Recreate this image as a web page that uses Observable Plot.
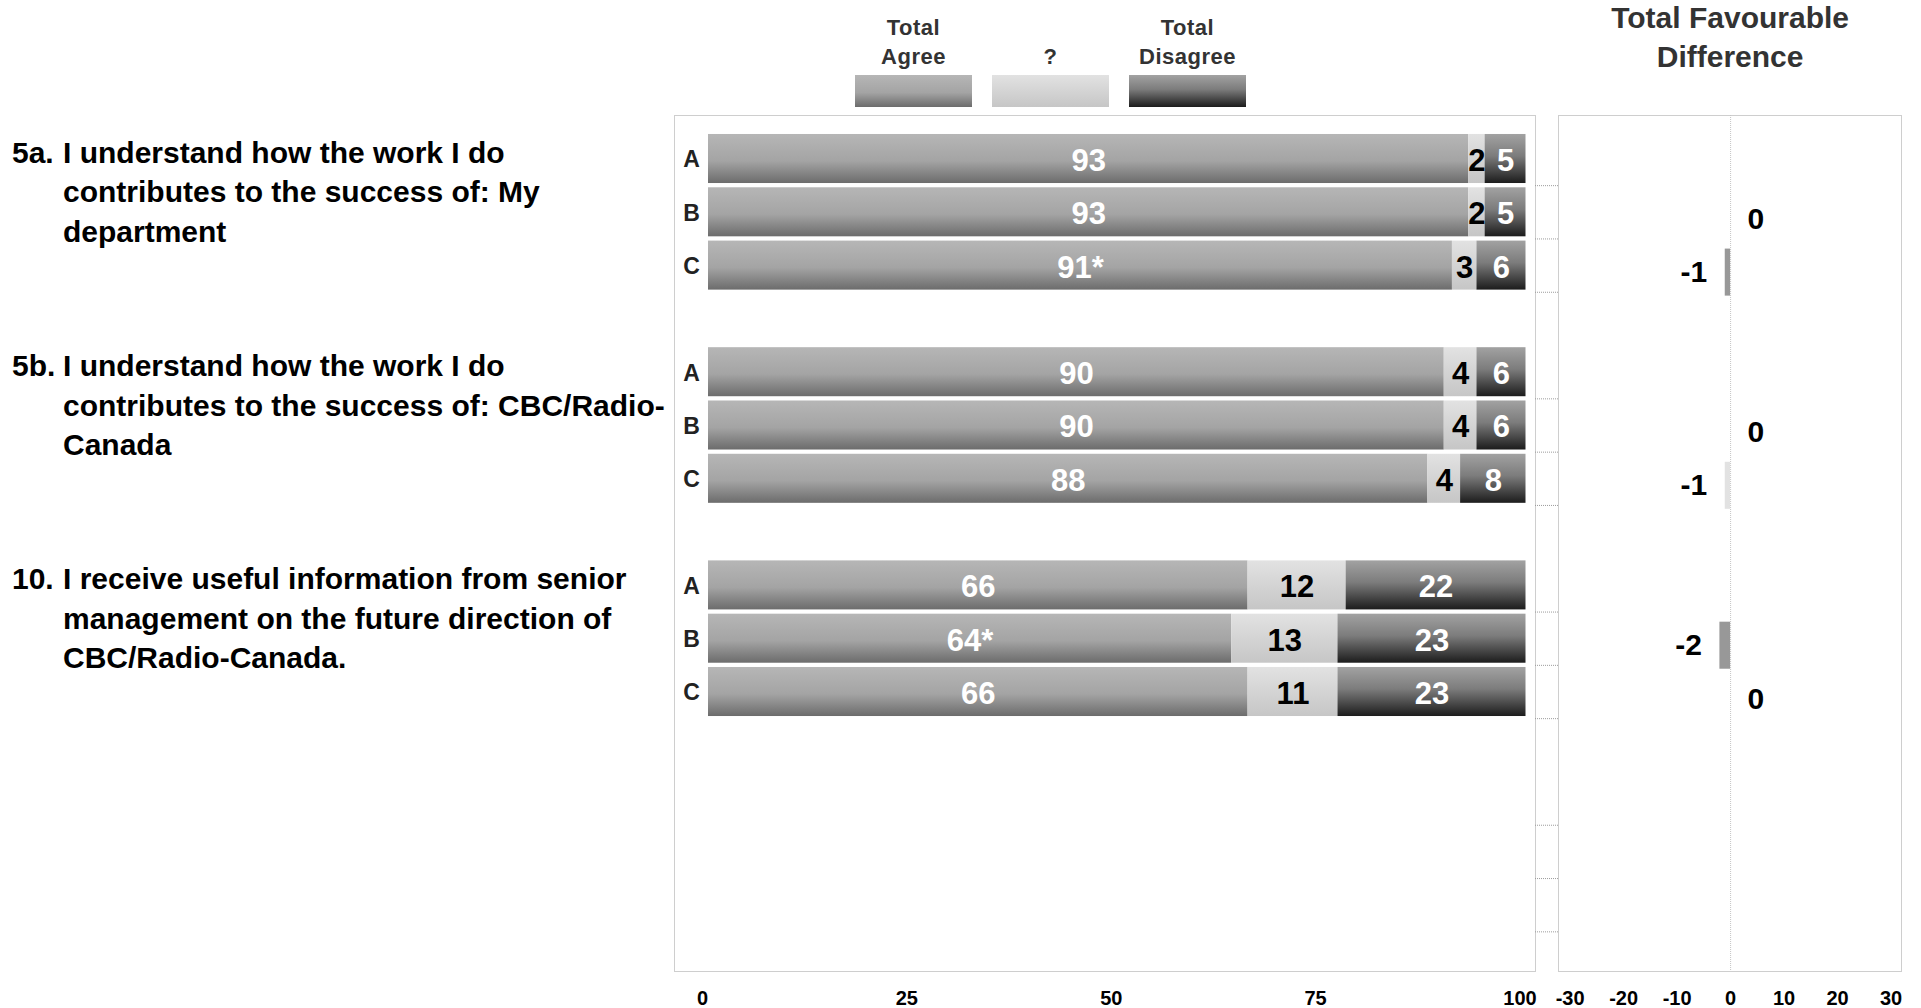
<!DOCTYPE html>
<html>
<head>
<meta charset="utf-8">
<script src="https://cdn.jsdelivr.net/npm/d3@7"></script>
<script src="https://cdn.jsdelivr.net/npm/@observablehq/plot@0.6"></script>
<style>
  html, body { margin: 0; padding: 0; background: #fff; }
  #chart {
    position: relative; width: 1921px; height: 1008px; overflow: hidden;
    font-family: "Liberation Sans", Arial, Helvetica, sans-serif; font-weight: bold;
  }
  #chart svg { position: absolute; left: 0; top: 0; }
  .qnum, .qline { position: absolute; white-space: nowrap; font-size: 30px; line-height: 39px; color: #000; }
  .legend-text { position: absolute; font-size: 22px; line-height: 29px; color: #333; text-align: center; white-space: nowrap; letter-spacing: 0.5px; transform: translateX(-50%); }
  .legend-swatch { position: absolute; }
  .header { position: absolute; font-size: 30px; line-height: 39px; color: #333; text-align: center; white-space: nowrap; transform: translateX(-50%); }
</style>
</head>
<body>
<svg width="0" height="0" style="position:absolute">
  <defs>
    <linearGradient id="gradAgree" x1="0" y1="0" x2="0" y2="1">
      <stop offset="0" stop-color="#b6b6b6"/>
      <stop offset="0.55" stop-color="#a4a4a4"/>
      <stop offset="1" stop-color="#6c6c6c"/>
    </linearGradient>
    <linearGradient id="gradNeutral" x1="0" y1="0" x2="0" y2="1">
      <stop offset="0" stop-color="#e2e2e2"/>
      <stop offset="1" stop-color="#c6c6c6"/>
    </linearGradient>
    <linearGradient id="gradDisagree" x1="0" y1="0" x2="0" y2="1">
      <stop offset="0" stop-color="#a2a2a2"/>
      <stop offset="0.45" stop-color="#7c7c7c"/>
      <stop offset="1" stop-color="#1c1c1c"/>
    </linearGradient>
  </defs>
</svg>
<div id="chart"></div>
<script>
// ---- Survey results -------------------------------------------------------
const questionIds = ["5a.", "5b.", "10."];
const questionLines = [
  ["I understand how the work I do", "contributes to the success of: My", "department"],
  ["I understand how the work I do", "contributes to the success of: CBC/Radio-", "Canada"],
  ["I receive useful information from senior", "management on the future direction of", "CBC/Radio-Canada."]
];
const groups = ["A", "B", "C"];

// Percentages per question (rows) and group (columns)
const totalAgree    = [[93, 93, 91], [90, 90, 88], [66, 64, 66]];
const neutral       = [[2, 2, 3],    [4, 4, 4],    [12, 13, 11]];
const totalDisagree = [[5, 5, 6],    [6, 6, 8],    [22, 23, 23]];
// Statistically significant agreement (shown with an asterisk)
const significant   = [[false, false, true], [false, false, false], [false, true, false]];
// Total favourable difference against group A
const favourableDiff = [[null, 0, -1], [null, 0, -1], [null, -2, 0]];

const mainTicks = [0, 25, 50, 75, 100];
const diffTicks = [-30, -20, -10, 0, 10, 20, 30];
const legendItems = [["Total", "Agree"], ["?"], ["Total", "Disagree"]];
const diffTitle = ["Total Favourable", "Difference"];
// The layout leaves room for one more question block below the last one
const slotBlocks = [...questionIds, "(open)"];

// ---- Tables ---------------------------------------------------------------
const keyOf = (q, g) => `${q}|${g}`;
const rows = questionIds.flatMap((q, qi) => groups.map((g, gi) => ({
  key: keyOf(q, g), q, g, qi, gi,
  agree: totalAgree[qi][gi], neutral: neutral[qi][gi], disagree: totalDisagree[qi][gi],
  sig: significant[qi][gi], diff: favourableDiff[qi][gi]
})));
const segments = rows.flatMap(r => {
  const a = r.agree, n = r.neutral, d = r.disagree;
  return [
    {key: r.key, kind: "agree", x1: 0, x2: a, label: `${a}${r.sig ? "*" : ""}`},
    {key: r.key, kind: "neutral", x1: a, x2: a + n, label: `${n}`},
    {key: r.key, kind: "disagree", x1: a + n, x2: a + n + d, label: `${d}`}
  ];
});
const diffs = rows.filter(r => r.diff !== null).map(r => ({key: r.key, value: r.diff, sig: r.sig, label: `${r.diff}`}));
const slotDomain = slotBlocks.flatMap(q => [...groups.map(g => keyOf(q, g)), keyOf(q, "gap")]);
const tickKeys = slotBlocks.flatMap(q => groups.map(g => keyOf(q, g)));

// ---- Layout ---------------------------------------------------------------
const W = 1921, H = 1008;
const panelTop = 115, panelBottom = 971;
const mainLeft = 674, mainRight = 1535, diffLeft = 1558, diffRight = 1901;
const slotStep = 53.3, firstSlot = 131.85;
const yScale = {
  type: "band", domain: slotDomain, round: false, axis: null,
  paddingInner: 0.08, paddingOuter: 0.04,
  range: [firstSlot, firstSlot + slotStep * slotDomain.length]
};
const font = "Liberation Sans, Arial, Helvetica, sans-serif";
const svgStyle = {background: "transparent", overflow: "visible", maxWidth: "none", fontFamily: font};
const dotted = {stroke: "#9c9c9c", strokeDasharray: "1 1"};

const byKind = k => segments.filter(s => s.kind === k);
const segLabel = (k, color) => Plot.text(byKind(k), {
  x: d => (d.x1 + d.x2) / 2, y: "key", text: "label", dy: 2,
  fill: color, fontSize: 31, fontWeight: "bold"
});

// Main stacked bars
const mainPlot = Plot.plot({
  width: W, height: H,
  marginLeft: mainLeft, marginRight: W - mainRight, marginTop: panelTop, marginBottom: H - panelBottom,
  style: svgStyle,
  x: {domain: [0, 100], insetLeft: 34, insetRight: 9.5, axis: null},
  y: yScale,
  marks: [
    Plot.frame(dotted),
    Plot.barX(byKind("agree"), {x1: "x1", x2: "x2", y: "key", fill: "url(#gradAgree)"}),
    Plot.barX(byKind("neutral"), {x1: "x1", x2: "x2", y: "key", fill: "url(#gradNeutral)"}),
    Plot.barX(byKind("disagree"), {x1: "x1", x2: "x2", y: "key", fill: "url(#gradDisagree)"}),
    segLabel("agree", "#fff"),
    segLabel("neutral", "#000"),
    segLabel("disagree", "#fff"),
    Plot.text(rows, {y: "key", text: "g", frameAnchor: "left", textAnchor: "middle", dx: 17, dy: 1, fill: "#222", fontSize: 23, fontWeight: "bold"}),
    Plot.text(mainTicks, {x: d => d, text: d => String(d), frameAnchor: "bottom", dy: 33, dx: -6, fill: "#000", fontSize: 20, fontWeight: "bold"})
  ]
});

// Tick marks on the category axis between the two panels
const tickPlot = Plot.plot({
  width: W, height: H,
  marginLeft: mainRight, marginRight: W - diffLeft, marginTop: panelTop, marginBottom: H - panelBottom,
  style: svgStyle,
  y: yScale,
  marks: [
    Plot.tickY(tickKeys, {y: d => d, dy: slotStep / 2, ...dotted})
  ]
});

// Favourable difference panel
const diffPlot = Plot.plot({
  width: W, height: H,
  marginLeft: diffLeft, marginRight: W - diffRight, marginTop: panelTop, marginBottom: H - panelBottom,
  style: svgStyle,
  x: {domain: [-30, 30], insetLeft: 11.6, insetRight: 10.4, axis: null},
  y: {...yScale, range: yScale.range.map(v => v + 7)},
  marks: [
    Plot.frame(dotted),
    Plot.ruleX([0], {stroke: "#c4c4c4", strokeDasharray: "1 1"}),
    Plot.barX(diffs.filter(d => d.sig), {x1: 0, x2: "value", y: "key", fill: "#989898", insetTop: 1, insetBottom: 1}),
    Plot.barX(diffs.filter(d => !d.sig), {x1: 0, x2: "value", y: "key", fill: "#e2e2e2", insetTop: 1, insetBottom: 1}),
    Plot.text(diffs.filter(d => d.value < 0), {x: "value", y: "key", text: "label", textAnchor: "end", dx: -18, fill: "#000", fontSize: 30, fontWeight: "bold"}),
    Plot.text(diffs.filter(d => d.value >= 0), {x: "value", y: "key", text: "label", textAnchor: "start", dx: 17, fill: "#000", fontSize: 30, fontWeight: "bold"}),
    Plot.text(diffTicks, {x: d => d, text: d => String(d), frameAnchor: "bottom", dy: 33, fill: "#000", fontSize: 20, fontWeight: "bold"})
  ]
});

const chart = document.getElementById("chart");
chart.append(mainPlot, tickPlot, diffPlot);

// ---- Question labels, aligned to each block's first row --------------------
const ys = mainPlot.scale("y");
const rowCenter = key => ys.apply(key) + ys.bandwidth / 2;
questionIds.forEach((q, qi) => {
  const top = rowCenter(keyOf(q, groups[0])) - 6 - 19.5;
  const num = document.createElement("div");
  num.className = "qnum";
  num.style.left = "12px";
  num.style.top = `${top}px`;
  num.textContent = q;
  chart.append(num);
  questionLines[qi].forEach((line, li) => {
    const div = document.createElement("div");
    div.className = "qline";
    div.style.left = "63px";
    div.style.top = `${top + li * 39.3}px`;
    div.textContent = line;
    chart.append(div);
  });
});

// ---- Legend ----------------------------------------------------------------
const swatchLeft = [855, 992, 1129], swatchWidth = 117;
const swatchFill = [
  "linear-gradient(to bottom, #b6b6b6 0%, #a4a4a4 55%, #6c6c6c 100%)",
  "linear-gradient(to bottom, #e2e2e2 0%, #c6c6c6 100%)",
  "linear-gradient(to bottom, #a2a2a2 0%, #7c7c7c 45%, #1c1c1c 100%)"
];
legendItems.forEach((lines, i) => {
  const cx = swatchLeft[i] + swatchWidth / 2;
  const sw = document.createElement("div");
  sw.className = "legend-swatch";
  Object.assign(sw.style, {left: `${swatchLeft[i]}px`, top: "75px", width: `${swatchWidth}px`, height: "32px", background: swatchFill[i]});
  chart.append(sw);
  const offset = 2 - lines.length;
  lines.forEach((t, li) => {
    const d = document.createElement("div");
    d.className = "legend-text";
    d.style.left = `${cx}px`;
    d.style.top = `${27 + (li + offset) * 29 - 14.5}px`;
    d.textContent = t;
    chart.append(d);
  });
});

// ---- Difference panel title --------------------------------------------------
const zeroX = diffPlot.scale("x").apply(0);
diffTitle.forEach((t, i) => {
  const d = document.createElement("div");
  d.className = "header";
  d.style.left = `${zeroX}px`;
  d.style.top = `${17 + i * 39 - 19.5}px`;
  d.textContent = t;
  chart.append(d);
});
</script>
</body>
</html>
